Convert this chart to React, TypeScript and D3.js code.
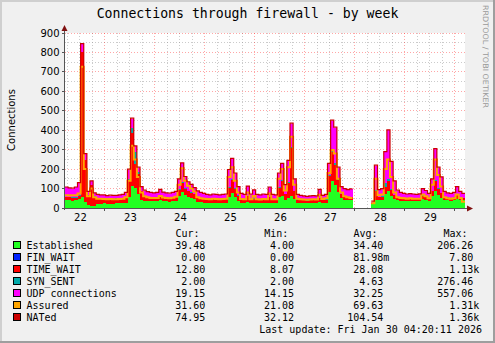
import React from 'react';
import * as d3 from 'd3';

// ---- data (1.5 hour bins starting Jan 22 05:00) ----
const startHour = 5;
const binHours = 1.5;
const N_ = null;

const established: (number | null)[] = [
  42, 40, 38, 40, 45,
  55, 30, 15, 12, 10,
  20, 22, 24, 22, 23, 22, 24, 25, 24, 28,
  55, 115, 105, 70, 40,
  38, 36, 35, 34, 36, 40, 35, 34, 33, 35, 38,
  60, 80, 65, 55, 50, 45,
  32, 30, 28, 27, 26, 28, 27, 26, 27, 28,
  55, 75, 55, 38,
  28, 27, 30, 27, 28, 27, 26, 27, 26, 28, 26, 27,
  55, 60, 40, 50, 60, 45,
  28, 26, 25, 24, 25, 26, 25, 30, 26, 28,
  80, 140, 120, 80, 50, 42, 40, 40,
  N_, N_, N_, N_, N_, N_,
  20, 40, 40, 42, 70, 90, 60, 45, 40,
  38, 37, 36, 37, 36, 35, 36, 45, 42, 37,
  60, 90, 65, 50,
  42, 40, 38, 40, 45, 40, 39,
];

const finWait: (number | null)[] = [
  0, 0, 0, 0, 0,
  0, 0, 0, 0, 0,
  0, 0, 0, 0, 0, 0, 0, 0, 0, 0,
  0, 0, 0, 0, 0,
  0, 0, 0, 0, 0, 0, 0, 0, 0, 0, 0,
  0, 0, 0, 0, 0, 0,
  0, 0, 0, 0, 0, 0, 0, 0, 0, 0,
  0, 0, 0, 0,
  0, 0, 0, 0, 0, 0, 0, 0, 0, 0, 0, 0,
  0, 0, 0, 0, 0, 0,
  0, 0, 0, 0, 0, 0, 0, 0, 0, 0,
  0, 0, 0, 0, 0, 0, 0, 0,
  N_, N_, N_, N_, N_, N_,
  0, 0, 0, 0, 0, 0, 0, 0, 0,
  0, 0, 0, 0, 0, 0, 0, 0, 0, 0,
  0, 0, 0, 0,
  0, 0, 0, 0, 0, 0, 0,
];

const timeWait: (number | null)[] = [
  14, 15, 16, 14, 18,
  746, 216, 51, 104, 49,
  28, 26, 25, 24, 25, 24, 23, 24, 25, 28,
  91, 270, 123, 105, 48,
  22, 20, 19, 20, 19, 25, 20, 19, 19, 20, 22,
  35, 50, 35, 30, 28, 25,
  20, 18, 17, 16, 16, 17, 16, 16, 17, 17,
  50, 70, 45, 25,
  16, 15, 30, 15, 20, 15, 15, 16, 15, 28, 15, 15,
  50, 80, 30, 80, 250, 40,
  15, 14, 14, 13, 14, 14, 14, 22, 14, 15,
  86, 150, 99, 63, 20, 16, 15, 15,
  N_, N_, N_, N_, N_, N_,
  5, 50, 15, 16, 40, 50, 35, 20, 14,
  12, 12, 11, 12, 11, 11, 12, 18, 15, 12,
  25, 50, 35, 25,
  14, 13, 13, 13, 20, 14, 13,
];

const synSent: (number | null)[] = [
  2, 2, 2, 2, 2,
  2, 2, 2, 2, 2,
  2, 2, 2, 2, 2, 2, 2, 2, 2, 2,
  2, 25, 60, 8, 2,
  2, 2, 2, 2, 2, 2, 2, 2, 2, 2, 2,
  2, 2, 2, 2, 2, 2,
  2, 2, 2, 2, 2, 2, 2, 2, 2, 2,
  2, 5, 2, 2,
  2, 2, 2, 2, 2, 2, 2, 2, 2, 2, 2, 2,
  2, 2, 2, 2, 2, 2,
  2, 2, 2, 2, 2, 2, 2, 2, 2, 2,
  2, 10, 15, 5, 2, 2, 2, 2,
  N_, N_, N_, N_, N_, N_,
  2, 2, 2, 2, 20, 10, 5, 2, 2,
  2, 2, 2, 2, 2, 2, 2, 2, 2, 2,
  2, 5, 2, 2,
  2, 2, 2, 2, 2, 2, 2,
];

const udp: (number | null)[] = [
  48, 45, 44, 50, 63,
  40, 30, 15, 20, 15,
  18, 16, 15, 14, 14, 15, 14, 15, 17, 20,
  50, 50, 30, 25, 18,
  28, 24, 22, 20, 21, 27, 23, 21, 20, 21, 22,
  51, 98, 58, 46, 40, 31,
  32, 28, 26, 23, 22, 23, 23, 22, 22, 23,
  89, 103, 76, 43,
  27, 24, 49, 26, 41, 24, 23, 25, 25, 48, 25, 22,
  71, 86, 46, 111, 122, 61,
  23, 21, 19, 19, 19, 20, 19, 40, 21, 23,
  60, 150, 180, 60, 36, 38, 36, 39,
  N_, N_, N_, N_, N_, N_,
  6, 126, 36, 38, 158, 250, 138, 71, 34,
  26, 22, 21, 21, 21, 20, 21, 33, 29, 22,
  61, 158, 106, 81,
  25, 21, 20, 23, 41, 27, 19,
];

const assured: (number | null)[] = [
  66, 64, 65, 66, 75,
  727, 200, 60, 100, 55,
  48, 47, 46, 45, 46, 45, 45, 46, 48, 55,
  140, 320, 250, 160, 80,
  60, 55, 52, 52, 52, 62, 54, 52, 50, 53, 58,
  120, 205, 140, 115, 100, 85,
  55, 50, 48, 46, 45, 48, 46, 45, 46, 47,
  160, 210, 140, 80,
  46, 45, 80, 45, 62, 45, 44, 46, 45, 75, 45, 45,
  150, 200, 90, 210, 367, 120,
  48, 45, 44, 42, 44, 45, 44, 68, 46, 50,
  180, 298, 280, 150, 80, 60, 55, 52,
  N_, N_, N_, N_, N_, N_,
  25, 150, 65, 70, 200, 250, 160, 80, 55,
  52, 50, 48, 50, 48, 47, 48, 70, 60, 50,
  120, 250, 170, 110,
  55, 50, 48, 50, 70, 52, 32,
];

const nated: (number | null)[] = [
  108, 104, 102, 108, 130,
  845, 280, 85, 140, 78,
  70, 68, 68, 64, 66, 65, 65, 68, 70, 80,
  200, 462, 320, 210, 110,
  92, 84, 80, 78, 80, 96, 82, 78, 76, 80, 86,
  150, 232, 162, 135, 122, 105,
  88, 80, 75, 70, 68, 72, 70, 68, 70, 72,
  198, 255, 180, 110,
  75, 70, 113, 72, 93, 70, 68, 72, 70, 108, 70, 68,
  180, 230, 120, 245, 436, 150,
  70, 65, 62, 60, 62, 64, 62, 96, 65, 70,
  230, 452, 416, 210, 110, 100, 95, 98,
  N_, N_, N_, N_, N_, N_,
  35, 220, 95, 100, 290, 402, 240, 140, 92,
  80, 75, 72, 74, 72, 70, 73, 100, 90, 75,
  150, 305, 210, 160,
  85, 78, 75, 80, 110, 85, 75,
];

const seriesNames = ['Established', 'FIN_WAIT', 'TIME_WAIT', 'SYN_SENT', 'UDP connections', 'Assured', 'NATed'];
const seriesColors = ['#22ff22', '#0022ff', '#ff0000', '#00aaaa', '#ff00ff', '#ffa500', '#cc0000'];
const statCur = ['39.48', '0.00', '12.80', '2.00', '19.15', '31.60', '74.95'];
const statMin = ['4.00', '0.00', '8.07', '2.00', '14.15', '21.08', '32.12'];
const statAvg = ['34.40', '81.98m', '28.08', '4.63', '32.25', '69.63', '104.54'];
const statMax = ['206.26', '7.80', '1.13k', '276.46', '557.06', '1.31k', '1.36k'];
const dayLabels = ['22', '23', '24', '25', '26', '27', '28', '29'];
const yTicks = [0, 100, 200, 300, 400, 500, 600, 700, 800, 900];
const title = 'Connections through firewall - by week';
const yTitle = 'Connections';
const lastUpdate = 'Last update: Fri Jan 30 04:20:11 2026';
const watermark = 'RRDTOOL / TOBI OETIKER';

type P = { ok: boolean; t: number; lo: number; hi: number };

const MONO = '"DejaVu Sans Mono", monospace';
const SANS = '"DejaVu Sans", sans-serif';

function fmtField(v: string) {
  const last = v[v.length - 1];
  const hasSuf = /[a-zA-Z]/.test(last);
  const num = hasSuf ? v.slice(0, -1) : v;
  return num.padStart(6, ' ') + (hasSuf ? last : ' ');
}

export default function App() {
  const n = established.length;
  const endHour = startHour + n * binHours;
  const L = 65, R = 465, T = 33, B = 208;
  const x = d3.scaleLinear().domain([startHour, endHour]).range([L, R]);
  const y = d3.scaleLinear().domain([0, 900]).range([B, T]);

  const stackSeries = [established, finWait, timeWait, synSent, udp];
  const cums: (number | null)[][] = [];
  let prev: (number | null)[] = established.map(() => 0);
  stackSeries.forEach((s) => {
    const c = s.map((v, i) => (v == null || prev[i] == null ? null : (prev[i] as number) + v));
    cums.push(c);
    prev = c;
  });

  const expand = (lo: (number | null)[], hi: (number | null)[]): P[] => {
    const pts: P[] = [];
    for (let i = 0; i < n; i++) {
      const h = hi[i];
      const l = lo[i];
      if (h == null || l == null) {
        pts.push({ ok: false, t: 0, lo: 0, hi: 0 });
      } else {
        const t0 = startHour + i * binHours;
        pts.push({ ok: true, t: t0, lo: l, hi: h });
        pts.push({ ok: true, t: t0 + binHours, lo: l, hi: h });
      }
    }
    return pts;
  };

  const area = d3
    .area<P>()
    .defined((p) => p.ok)
    .x((p) => x(p.t))
    .y0((p) => y(p.lo))
    .y1((p) => y(p.hi));
  const line = d3
    .line<P>()
    .defined((p) => p.ok)
    .x((p) => x(p.t))
    .y((p) => y(p.hi));

  const zeros = established.map((v) => (v == null ? null : 0));
  const areas = cums.map((c, k) => area(expand(k === 0 ? zeros : cums[k - 1], c)) || '');
  const assuredPath = line(expand(zeros, assured)) || '';
  const natedPath = line(expand(zeros, nated)) || '';

  const majorX = d3.range(24, endHour, 24);
  const minorX = d3.range(6, endHour, 6).filter((h) => h % 24 !== 0 && h > startHour);
  const majorY = yTicks.filter((v) => v > 0);
  const minorY = d3.range(50, 900, 100);

  const gridMinor = 'rgba(140,140,140,0.45)';
  const gridMajor = 'rgba(255,0,0,0.35)';
  const px = (v: number) => Math.floor(v) + 0.5;

  const colStarts = [169.2, 257.9, 347.2, 437.2];
  const headers = ['Cur:', 'Min:', 'Avg:', 'Max:'];
  const stats = [statCur, statMin, statAvg, statMax];
  const rowY = (k: number) => 249 + k * 12.05;

  return (
    <svg
      width={495}
      height={343}
      style={{ position: 'absolute', left: 0, top: 0 }}
      xmlns="http://www.w3.org/2000/svg"
    >
      <rect x={0} y={0} width={495} height={343} fill="#f0f0f0" />
      <rect x={0} y={0} width={495} height={2} fill="#cfcfcf" />
      <rect x={0} y={0} width={2} height={343} fill="#cfcfcf" />
      <rect x={0} y={341} width={495} height={2} fill="#9e9e9e" />
      <rect x={493} y={0} width={2} height={343} fill="#9e9e9e" />

      <rect x={L} y={T} width={R - L} height={B - T} fill="#ffffff" />

      {/* grid */}
      <g strokeWidth={1} strokeDasharray="1,2" shapeRendering="crispEdges">
        {minorY.map((v) => (
          <line key={'my' + v} x1={L} x2={R} y1={px(y(v))} y2={px(y(v))} stroke={gridMinor} />
        ))}
        {minorX.map((h) => (
          <line key={'mx' + h} x1={px(x(h))} x2={px(x(h))} y1={T} y2={B} stroke={gridMinor} />
        ))}
        {majorY.map((v) => (
          <line key={'My' + v} x1={L} x2={R} y1={px(y(v))} y2={px(y(v))} stroke={gridMajor} />
        ))}
        {majorX.map((h) => (
          <line key={'Mx' + h} x1={px(x(h))} x2={px(x(h))} y1={T} y2={B} stroke={gridMajor} />
        ))}
      </g>

      {/* data */}
      <g shapeRendering="crispEdges">
        {areas.map((d, k) => (
          <path key={'a' + k} d={d} fill={seriesColors[k]} stroke="none" />
        ))}
      </g>
      <path d={assuredPath} fill="none" stroke={seriesColors[5]} strokeWidth={2} />
      <path d={natedPath} fill="none" stroke={seriesColors[6]} strokeWidth={1.2} />

      {/* axes */}
      <g shapeRendering="crispEdges">
        <line x1={L - 0.5} x2={L - 0.5} y1={B + 2} y2={T - 4} stroke="#555" />
        <line x1={L - 3} x2={R + 3} y1={B + 0.5} y2={B + 0.5} stroke="#555" />
        {majorY.concat([0]).map((v) => (
          <line key={'ty' + v} x1={L - 3} x2={L - 1} y1={px(y(v))} y2={px(y(v))} stroke="#555" />
        ))}
        {majorX.map((h) => (
          <line key={'tx' + h} x1={px(x(h))} x2={px(x(h))} y1={B + 1} y2={B + 3} stroke="#555" />
        ))}
      </g>
      <path d={`M${L - 3.5},${T - 2} L${L + 2.5},${T - 2} L${L - 0.5},${T - 8} Z`} fill="#7f1010" />
      <path d={`M${R + 2},${B - 2.5} L${R + 2},${B + 3.5} L${R + 8},${B + 0.5} Z`} fill="#7f1010" />

      {/* axis labels */}
      <g fontFamily={SANS} fontSize={10} fill="#000">
        {yTicks.map((v) => (
          <text key={'yl' + v} x={59.5} y={y(v) + 3.6} textAnchor="end">
            {v}
          </text>
        ))}
        {dayLabels.map((d, i) => (
          <text key={'xl' + d} x={x(12 + 24 * i) + 0.8} y={221} textAnchor="middle">
            {d}
          </text>
        ))}
        <text transform="translate(15,120) rotate(-90)" textAnchor="middle">
          {yTitle}
        </text>
      </g>

      {/* title */}
      <text x={247.5} y={17.5} textAnchor="middle" fontFamily={MONO} fontSize={13.2} fill="#000">
        {title}
      </text>

      {/* watermark */}
      <text
        transform="translate(483,5) rotate(90)"
        fontFamily={SANS}
        fontSize={7.5}
        fill="#999"
        textLength={103}
        lengthAdjust="spacingAndGlyphs"
      >
        {watermark}
      </text>

      {/* legend */}
      <g fontFamily={MONO} fontSize={10} fill="#000" style={{ whiteSpace: 'pre' }}>
        {headers.map((h, c) => (
          <text key={'h' + c} x={colStarts[c] + 6.3} y={237.3} xmlSpace="preserve">
            {h}
          </text>
        ))}
        {seriesNames.map((name, k) => (
          <g key={'lg' + k}>
            <rect x={13.5} y={rowY(k) - 7.5} width={7} height={7} fill={seriesColors[k]} stroke="#000" strokeWidth={1} shapeRendering="crispEdges" />
            <text x={26.5} y={rowY(k)}>{name}</text>
            {stats.map((col, c) => (
              <text key={'s' + c} x={colStarts[c]} y={rowY(k)} xmlSpace="preserve">
                {fmtField(col[k])}
              </text>
            ))}
          </g>
        ))}
        <text x={482} y={333} textAnchor="end">
          {lastUpdate}
        </text>
      </g>
    </svg>
  );
}
